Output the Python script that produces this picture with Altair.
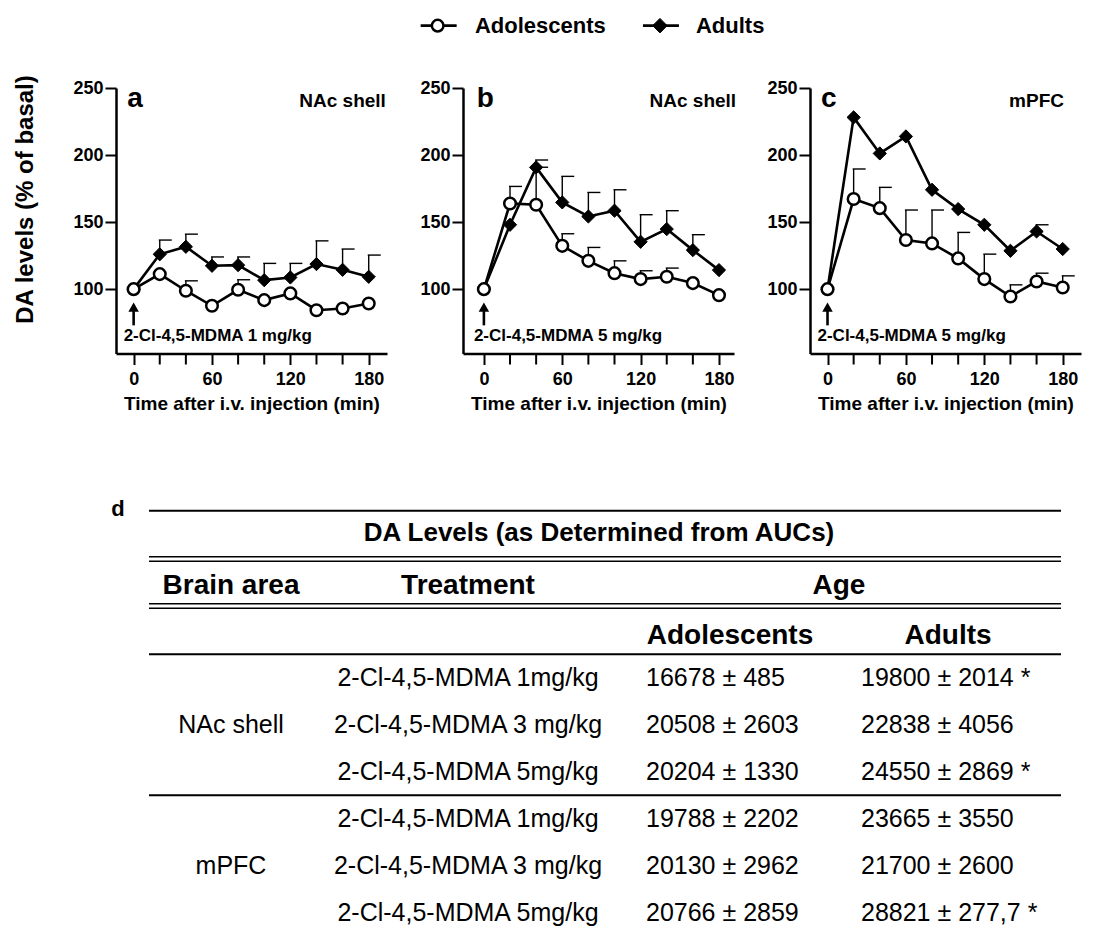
import altair as alt
import pandas as pd

# ---------------- data ----------------
times = [0, 20, 40, 60, 80, 100, 120, 140, 160, 180]
groups = ["Adolescents", "Adults"]

# panel a - NAc shell, 1 mg/kg
a_adol = [100, 111.2, 98.8, 87.6, 99.5, 91.8, 96.8, 84.3, 85.6, 89.3]
a_adol_sem = [0, 0, 7.4, 0, 7.5, 0, 0, 0, 0, 0]
a_adult = [100, 126.0, 131.6, 117.4, 117.9, 106.7, 108.7, 118.7, 114.4, 109.2]
a_adult_sem = [0, 10.6, 9.4, 6.6, 6.1, 12.5, 10.5, 17.3, 15.5, 16.2]

# panel b - NAc shell, 5 mg/kg
b_adol = [100, 163.9, 162.9, 132.3, 121.1, 111.9, 107.5, 109.2, 104.5, 95.5]
b_adol_sem = [0, 12.7, 28.0, 9.0, 10.0, 9.2, 6.2, 6.5, 0, 0]
b_adult = [100, 148.0, 190.8, 164.7, 154.2, 158.5, 135.3, 144.8, 129.1, 114.2]
b_adult_sem = [0, 0, 5.5, 19.4, 17.9, 15.6, 20.2, 13.7, 11.5, 0]

# panel c - mPFC, 5 mg/kg
c_adol = [100, 167.2, 160.4, 136.6, 134.1, 122.9, 107.5, 94.5, 105.7, 101.2]
c_adol_sem = [0, 22.4, 15.5, 22.4, 24.9, 19.4, 18.6, 8.7, 6.2, 8.7]
c_adult = [100, 228.1, 201.2, 213.9, 174.1, 159.7, 148.0, 128.6, 143.0, 129.9]
c_adult_sem = [0, 0, 0, 0, 0, 0, 0, 0, 5.0, 0]

x_label_values = [0, 60, 120, 180]
x_minor_ticks = [t for t in times if t not in x_label_values]
y_label_values = [100, 150, 200, 250]

panel_letters = ["a", "b", "c"]
panel_regions = ["NAc shell", "NAc shell", "mPFC"]
panel_doses = ["2-Cl-4,5-MDMA 1 mg/kg", "2-Cl-4,5-MDMA 5 mg/kg", "2-Cl-4,5-MDMA 5 mg/kg"]

# table d
table_letter = "d"
table_title = "DA Levels (as Determined from AUCs)"
header_labels = ["Brain area", "Treatment", "Age"]
header_cols = [0, 1, 2.5]
age_labels = ["Adolescents", "Adults"]
brain_areas = ["NAc shell", "mPFC"]
brain_rows = [4, 7]
treatments = ["2-Cl-4,5-MDMA 1mg/kg", "2-Cl-4,5-MDMA 3 mg/kg", "2-Cl-4,5-MDMA 5mg/kg",
              "2-Cl-4,5-MDMA 1mg/kg", "2-Cl-4,5-MDMA 3 mg/kg", "2-Cl-4,5-MDMA 5mg/kg"]
adol_auc = ["16678 ± 485", "20508 ± 2603", "20204 ± 1330",
            "19788 ± 2202", "20130 ± 2962", "20766 ± 2859"]
adult_auc = ["19800 ± 2014", "22838 ± 4056", "24550 ± 2869",
             "23665 ± 3550", "21700 ± 2600", "28821 ± 277,7"]
adult_sig = ["*", "", "*", "", "", "*"]
single_rule_rows = [-0.55, 2.5, 5.5]
double_rule_rows = [0.5, 1.5]

# ---------------- style ----------------
FONT = "Liberation Sans"
BLACK = "#000000"
YDOM = [52, 250]
W, H = 271, 265.5
TICK = 11


def make_df(adol, adol_sem, adult, adult_sem):
    rows = []
    for g, vals, sems in ((groups[0], adol, adol_sem), (groups[1], adult, adult_sem)):
        for t, v, s in zip(times, vals, sems):
            rows.append({"t": t, "v": v, "sem": s, "up": v + s, "group": g})
    return pd.DataFrame(rows)


def one(**kw):
    return pd.DataFrame({k: [v] for k, v in kw.items()})


def panel(idx, df, xdom, ytitle):
    xscale = alt.Scale(domain=xdom, nice=False, zero=False)
    yscale = alt.Scale(domain=YDOM, nice=False, zero=False)
    xaxis = alt.Axis(values=x_label_values, labelOverlap=False,
                     labelPadding=6, titlePadding=6, titleFontSize=19)
    yaxis = alt.Axis(values=y_label_values, labelPadding=2, labelOverlap=False,
                     titlePadding=35, titleFontSize=24, titleY=111)
    xtitle = "Time after i.v. injection (min)"

    def X(f):
        return alt.X(f, scale=xscale, axis=xaxis, title=xtitle)

    def Y(f):
        return alt.Y(f, scale=yscale, axis=yaxis, title=ytitle)

    base = alt.Chart(df)
    minor = alt.Chart(pd.DataFrame({"t": x_minor_ticks})).mark_rule(
        color=BLACK, strokeWidth=2).encode(
        x=X("t:Q"), y=alt.value(H), y2=alt.value(H + TICK))
    has_err = base.transform_filter("datum.sem > 0")
    err = has_err.mark_rule(color=BLACK, strokeWidth=1.4).encode(
        x=X("t:Q"), y=Y("v:Q"), y2="up:Q")
    cap = has_err.mark_rule(color=BLACK, strokeWidth=1.4, xOffset=-1, x2Offset=12).encode(
        x=X("t:Q"), x2="t:Q", y=Y("up:Q"))
    line = base.mark_line(color=BLACK, strokeWidth=2.6).encode(
        x=X("t:Q"), y=Y("v:Q"), detail="group:N")
    adults = base.transform_filter(alt.datum.group == groups[1]).mark_point(
        shape="diamond", filled=True, fill=BLACK, stroke=BLACK, strokeWidth=1,
        size=175, opacity=1).encode(x=X("t:Q"), y=Y("v:Q"))
    adols = base.transform_filter(alt.datum.group == groups[0]).mark_point(
        shape="circle", filled=True, fill="white", stroke=BLACK, strokeWidth=2.5,
        size=135, opacity=1).encode(x=X("t:Q"), y=Y("v:Q"))

    letter = alt.Chart(one(txt=panel_letters[idx])).mark_text(
        font=FONT, fontSize=28, fontWeight="bold", color=BLACK,
        align="center", baseline="alphabetic").encode(
        x=alt.XDatum(1), y=alt.YDatum(236), text="txt:N")
    region = alt.Chart(one(txt=panel_regions[idx])).mark_text(
        font=FONT, fontSize=19, fontWeight="bold", color=BLACK,
        align="center", baseline="alphabetic").encode(
        x=alt.XDatum(160), y=alt.YDatum(236), text="txt:N")
    dose = alt.Chart(one(txt=panel_doses[idx])).mark_text(
        font=FONT, fontSize=17, fontWeight="bold", color=BLACK,
        align="left", baseline="alphabetic", dx=-10).encode(
        x=alt.XDatum(0), y=alt.YDatum(61.4), text="txt:N")
    shaft = alt.Chart(one(k=0)).mark_rule(color=BLACK, strokeWidth=2.6).encode(
        x=alt.XDatum(0), y=alt.YDatum(73.0), y2=alt.Y2Datum(84))
    head = alt.Chart(one(k=0)).mark_point(
        shape="triangle-up", filled=True, color=BLACK, size=110, opacity=1).encode(
        x=alt.XDatum(0), y=alt.YDatum(86.6))

    return [minor, err, cap, line, adults, adols, letter, region, dose, shaft, head]


def legend_layers():
    layers = []
    spec = [(groups[0], -35.4, "circle", 135, 37.3), (groups[1], 134.8, "diamond", 210, 36)]
    for name, cx, shape, size, dx in spec:
        layers.append(alt.Chart(one(k=0)).mark_rule(
            color=BLACK, strokeWidth=2.6, xOffset=-17, x2Offset=19).encode(
            x=alt.XDatum(cx), x2=alt.X2Datum(cx), y=alt.YDatum(296.5)))
        if shape == "circle":
            m = alt.Chart(one(k=0)).mark_point(shape="circle", filled=True, fill="white",
                                               stroke=BLACK, strokeWidth=2.5, size=size, opacity=1)
        else:
            m = alt.Chart(one(k=0)).mark_point(shape="diamond", filled=True, fill=BLACK,
                                               stroke=BLACK, strokeWidth=1, size=size, opacity=1)
        layers.append(m.encode(x=alt.XDatum(cx), y=alt.YDatum(296.5)))
        layers.append(alt.Chart(one(txt=name)).mark_text(
            font=FONT, fontSize=22, fontWeight="bold", color=BLACK,
            align="left", baseline="middle", dx=dx).encode(
            x=alt.XDatum(cx), y=alt.YDatum(296.5), text="txt:N"))
    return layers


def table_layers():
    tx = alt.Scale(type="linear", domain=[-0.5, 0, 1, 2, 3, 3.5],
                   range=[33, 115, 352, 614, 832, 945], nice=False, zero=False)
    ty = alt.Scale(type="linear", domain=[0, 8], range=[448.7, 824.7], nice=False, zero=False)

    def TX(f):
        return alt.X(f, scale=tx, axis=None)

    def TY(f):
        return alt.Y(f, scale=ty, axis=None)

    layers = []
    rules = pd.DataFrame({"row": single_rule_rows})
    layers.append(alt.Chart(rules).mark_rule(color=BLACK, strokeWidth=2).encode(
        x=alt.XDatum(-0.5, scale=tx, axis=None), x2=alt.X2Datum(3.5), y=TY("row:Q")))
    dbl = pd.DataFrame({"row": double_rule_rows})
    for off in (-3.5, 1.0):
        layers.append(alt.Chart(dbl).mark_rule(color=BLACK, strokeWidth=1.5, yOffset=off).encode(
            x=alt.XDatum(-0.5, scale=tx, axis=None), x2=alt.X2Datum(3.5), y=TY("row:Q")))

    def text_layer(df, size, weight, align="center", dx=0, dy=0):
        return alt.Chart(df).mark_text(font=FONT, fontSize=size, fontWeight=weight, color=BLACK,
                                       align=align, baseline="middle", dx=dx, dy=dy).encode(
            x=TX("col:Q"), y=TY("row:Q"), text="txt:N")

    data_rows = list(range(3, 3 + len(treatments)))
    adult_txt = [(v + " " + s).rstrip() for v, s in zip(adult_auc, adult_sig)]

    layers.append(text_layer(one(txt=table_letter, col=-0.5, row=-0.55), 22, "bold", dx=-31, dy=-2))
    layers.append(text_layer(one(txt=table_title, col=1.5, row=0), 26, "bold", dy=-4))
    layers.append(text_layer(pd.DataFrame({"txt": header_labels, "col": header_cols, "row": 1}),
                             28, "bold", dy=2))
    layers.append(text_layer(pd.DataFrame({"txt": age_labels, "col": [2, 3], "row": 2}),
                             28, "bold", dy=5))
    layers.append(text_layer(pd.DataFrame({"txt": brain_areas, "col": 0, "row": brain_rows}),
                             25, "normal"))
    layers.append(text_layer(pd.DataFrame({"txt": treatments, "col": 1, "row": data_rows}),
                             25, "normal"))
    layers.append(text_layer(pd.DataFrame({"txt": adol_auc, "col": 2, "row": data_rows}),
                             25, "normal", align="left", dx=-84))
    layers.append(text_layer(pd.DataFrame({"txt": adult_txt, "col": 3, "row": data_rows}),
                             25, "normal", align="left", dx=-87))
    return layers


df_a = make_df(a_adol, a_adol_sem, a_adult, a_adult_sem)
df_b = make_df(b_adol, b_adol_sem, b_adult, b_adult_sem)
df_c = make_df(c_adol, c_adol_sem, c_adult, c_adult_sem)

pa = alt.layer(
    alt.layer(*panel(0, df_a, [-13.5, 194], "DA levels (% of basal)")),
    alt.layer(*table_layers()),
).resolve_scale(x="independent", y="independent").properties(width=W, height=H)

pb = alt.layer(*panel(1, df_b, [-16, 191.5], None), *legend_layers()).properties(width=W, height=H)
pc = alt.layer(*panel(2, df_c, [-13.4, 194], None)).properties(width=W, height=H)

chart = alt.hconcat(pa, pb, pc, spacing=76, bounds="flush").properties(
    padding={"left": 5, "top": 6, "right": 5, "bottom": 0},
    background="white",
).configure_view(stroke=None).configure_axis(
    domainColor=BLACK, domainWidth=2.5, tickColor=BLACK, tickWidth=2, tickSize=TICK,
    labelFont=FONT, labelFontSize=18, labelFontWeight="bold", labelColor=BLACK,
    labelOverlap=False,
    titleFont=FONT, titleFontWeight="bold", titleColor=BLACK, grid=False,
).configure_text(font=FONT)

chart.save("out.html", embed_options={"renderer": "svg", "actions": False})
